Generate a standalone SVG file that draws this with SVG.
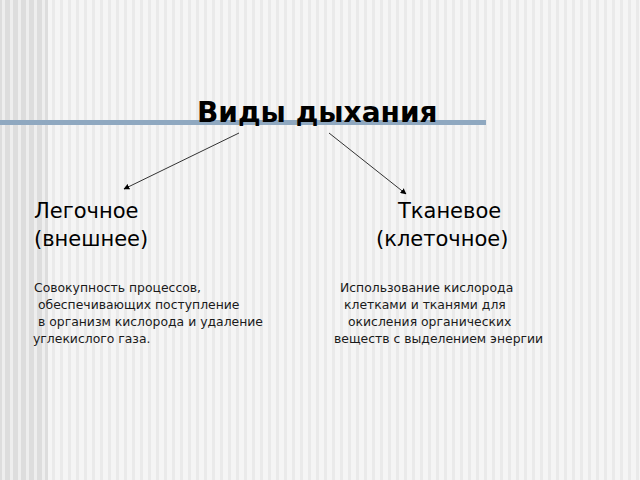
<svg xmlns="http://www.w3.org/2000/svg" width="640" height="480" viewBox="0 0 640 480">
<defs>
<pattern id="bgp" x="0" y="0" width="8" height="480" patternUnits="userSpaceOnUse">
<rect width="8" height="480" fill="#f5f5f5"/>
<rect x="4" width="3" height="480" fill="#eaeaea"/>
</pattern>
<pattern id="bgl" x="0" y="0" width="8" height="480" patternUnits="userSpaceOnUse">
<rect width="8" height="480" fill="#dddddd"/>
<rect x="2" width="3" height="480" fill="#eeeeee"/>
</pattern>
<marker id="ah" viewBox="0 0 10 10" refX="9" refY="5" markerWidth="6" markerHeight="6" markerUnits="userSpaceOnUse" orient="auto">
<path d="M0,0 L10,5 L0,10 z" fill="#000"/>
</marker>
</defs>
<style>
.t{font-family:"DejaVu Sans",Verdana,sans-serif;fill:#000}
.title{font-size:28px;font-weight:bold}
.big{font-size:21px}
.small{font-size:12.4px;fill:#1a1a1a}
.conn line{stroke:#333;stroke-width:1}
</style>
<rect width="640" height="480" fill="url(#bgp)"/>
<rect width="48" height="480" fill="url(#bgl)"/>
<rect x="0" y="120" width="486" height="5" fill="#8fa8c0"/>
<g id="title"><text class="t title" x="197" y="122">Виды дыхания</text></g>
<g id="connectors" class="conn">
<line x1="239" y1="133" x2="124" y2="189" marker-end="url(#ah)"/>
<line x1="329" y1="133" x2="406" y2="194" marker-end="url(#ah)"/>
</g>
<g id="lung">
<text class="t big" x="34" y="218">Легочное</text>
<text class="t big" x="34" y="246">(внешнее)</text>
<text class="t small" xml:space="preserve"><tspan x="34" y="292">Совокупность процессов,</tspan><tspan x="34" y="309"> обеспечивающих поступление</tspan><tspan x="34" y="326"> в организм кислорода и удаление</tspan><tspan x="33" y="343">углекислого газа.</tspan></text>
</g>
<g id="tissue">
<text class="t big" x="398" y="218">Тканевое</text>
<text class="t big" x="376" y="246">(клеточное)</text>
<text class="t small"><tspan x="340" y="292">Использование кислорода</tspan><tspan x="344" y="309">клетками и тканями для</tspan><tspan x="348" y="326">окисления органических</tspan><tspan x="334" y="343">веществ с выделением энергии</tspan></text>
</g>
</svg>
